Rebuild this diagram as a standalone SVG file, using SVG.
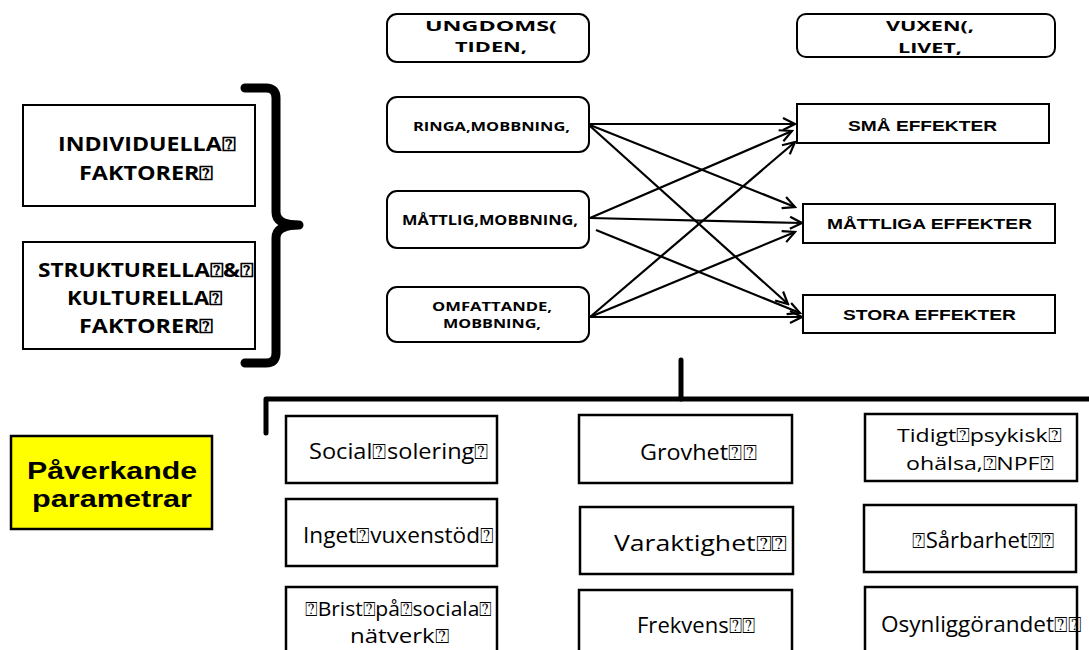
<svg xmlns="http://www.w3.org/2000/svg" width="1089" height="650" viewBox="0 0 1089 650">
<style>
.box{fill:#fff;stroke:#000;stroke-width:2}
.bbox{fill:#fff;stroke:#000;stroke-width:2.5}
.hb{font-family:"Open Sans","DejaVu Sans",sans-serif;font-weight:bold;fill:#000}
.ar{font-family:"Liberation Sans",Arial,sans-serif;font-weight:bold;fill:#000}
.rg{font-family:"Open Sans","DejaVu Sans",sans-serif;fill:#000}
.con{stroke:#000;stroke-width:2.2;fill:none;marker-end:url(#arr)}
.brk{stroke:#000;fill:none;stroke-linecap:round;stroke-linejoin:round}
</style>
<defs>
<marker id="arr" markerUnits="userSpaceOnUse" markerWidth="16" markerHeight="16" viewBox="0 0 16 16" refX="14" refY="8" orient="auto">
<path d="M2,2 L14,8 L2,14" stroke="#000" stroke-width="2.2" fill="none"/>
</marker>
</defs>
<rect width="1089" height="650" fill="#fff"/>

<g id="brackets">
<path class="brk" stroke-width="9" d="M245,88 L266,88 Q276,88 276,98 L276,212 Q276,225 299,225 Q276,225 276,238 L276,353 Q276,363 266,363 L245,363"/>
<path class="brk" stroke-width="5" stroke-linecap="butt" d="M266,433 L266,399 L1089,399"/>
<path class="brk" stroke-width="5" d="M681,360 L681,399"/>
</g>

<g id="individuella">
<rect class="box" x="23" y="105" width="232" height="101"/>
<text class="hb" font-size="19" x="58" y="151" textLength="177" lengthAdjust="spacingAndGlyphs">INDIVIDUELLA⍰</text>
<text class="hb" font-size="19" x="79" y="180" textLength="134" lengthAdjust="spacingAndGlyphs">FAKTORER⍰</text>
</g>
<g id="strukturella">
<rect class="box" x="23" y="242" width="232" height="107"/>
<text class="hb" font-size="19" x="38" y="277" textLength="215" lengthAdjust="spacingAndGlyphs">STRUKTURELLA⍰&amp;⍰</text>
<text class="hb" font-size="19" x="67" y="305" textLength="155" lengthAdjust="spacingAndGlyphs">KULTURELLA⍰</text>
<text class="hb" font-size="19" x="79" y="333" textLength="134" lengthAdjust="spacingAndGlyphs">FAKTORER⍰</text>
</g>

<g id="ungdomstiden">
<rect class="box" x="387" y="14" width="202" height="48" rx="10"/>
<text class="hb" font-size="15" x="425" y="31" textLength="132" lengthAdjust="spacingAndGlyphs">UNGDOMS(</text>
<text class="hb" font-size="15" x="455" y="52" textLength="72" lengthAdjust="spacingAndGlyphs">TIDEN,</text>
</g>
<g id="ringa">
<rect class="box" x="387" y="97" width="202" height="55" rx="10"/>
<text class="hb" font-size="13" x="413" y="131" textLength="157" lengthAdjust="spacingAndGlyphs">RINGA,MOBBNING,</text>
</g>
<g id="mattlig">
<rect class="box" x="387" y="191" width="202" height="57" rx="10"/>
<text class="hb" font-size="13.5" x="402" y="225" textLength="176" lengthAdjust="spacingAndGlyphs">MÅTTLIG,MOBBNING,</text>
</g>
<g id="omfattande">
<rect class="box" x="387" y="287" width="202" height="55" rx="10"/>
<text class="hb" font-size="12" x="432" y="311" textLength="120" lengthAdjust="spacingAndGlyphs">OMFATTANDE,</text>
<text class="hb" font-size="12" x="443" y="328" textLength="98" lengthAdjust="spacingAndGlyphs">MOBBNING,</text>
</g>

<g id="vuxenlivet">
<rect class="box" x="797" y="14" width="258" height="43" rx="9"/>
<text class="hb" font-size="15" x="886" y="31" textLength="88" lengthAdjust="spacingAndGlyphs">VUXEN(,</text>
<text class="hb" font-size="15" x="898" y="53" textLength="64" lengthAdjust="spacingAndGlyphs">LIVET,</text>
</g>
<g id="sma">
<rect class="box" x="797" y="104" width="252" height="39"/>
<text class="ar" font-size="15" x="848" y="131" textLength="149" lengthAdjust="spacingAndGlyphs">SMÅ EFFEKTER</text>
</g>
<g id="mattliga">
<rect class="box" x="803" y="204" width="252" height="39"/>
<text class="ar" font-size="14.5" x="827" y="229" textLength="205" lengthAdjust="spacingAndGlyphs">MÅTTLIGA EFFEKTER</text>
</g>
<g id="stora">
<rect class="box" x="803" y="295" width="252" height="38"/>
<text class="ar" font-size="15" x="843" y="320" textLength="173" lengthAdjust="spacingAndGlyphs">STORA EFFEKTER</text>
</g>

<g id="connectors">
<line class="con" x1="590" y1="124" x2="795" y2="124"/>
<line class="con" x1="590" y1="125" x2="795" y2="207"/>
<line class="con" x1="590" y1="126" x2="788" y2="304"/>
<line class="con" x1="590" y1="218" x2="792" y2="131"/>
<line class="con" x1="590" y1="218" x2="802" y2="223"/>
<line class="con" x1="596" y1="230" x2="800" y2="313"/>
<line class="con" x1="590" y1="317" x2="795" y2="142"/>
<line class="con" x1="590" y1="317" x2="795" y2="232"/>
<line class="con" x1="590" y1="317" x2="802" y2="317"/>
</g>

<g id="paverkande">
<rect x="11" y="436" width="201" height="93" fill="#ffff00" stroke="#000" stroke-width="2.5"/>
<text class="ar" font-size="24" x="27" y="479" textLength="170" lengthAdjust="spacingAndGlyphs">Påverkande</text>
<text class="ar" font-size="24" x="32" y="507" textLength="160" lengthAdjust="spacingAndGlyphs">parametrar</text>
</g>

<g id="social">
<rect class="bbox" x="286" y="416" width="211" height="67"/>
<text class="rg" font-size="21" x="309" y="459" textLength="180" lengthAdjust="spacingAndGlyphs">Social⍰solering⍰</text>
</g>
<g id="inget">
<rect class="bbox" x="286" y="499" width="211" height="67"/>
<text class="rg" font-size="21" x="303" y="543" textLength="191" lengthAdjust="spacingAndGlyphs">Inget⍰vuxenstöd⍰</text>
</g>
<g id="brist">
<rect class="bbox" x="286" y="587" width="211" height="70"/>
<text class="rg" font-size="20" x="305" y="616" textLength="187" lengthAdjust="spacingAndGlyphs">⍰Brist⍰på⍰sociala⍰</text>
<text class="rg" font-size="20" x="350" y="643" textLength="99" lengthAdjust="spacingAndGlyphs">nätverk⍰</text>
</g>

<g id="grovhet">
<rect class="bbox" x="579" y="415" width="213" height="68"/>
<text class="rg" font-size="21" x="640" y="460" textLength="117" lengthAdjust="spacingAndGlyphs">Grovhet⍰⍰</text>
</g>
<g id="varaktighet">
<rect class="bbox" x="580" y="507" width="213" height="67"/>
<text class="rg" font-size="22" x="614" y="551" textLength="173" lengthAdjust="spacingAndGlyphs">Varaktighet⍰⍰</text>
</g>
<g id="frekvens">
<rect class="bbox" x="579" y="590" width="213" height="70"/>
<text class="rg" font-size="21" x="637" y="633" textLength="119" lengthAdjust="spacingAndGlyphs">Frekvens⍰⍰</text>
</g>

<g id="tidigt">
<rect class="bbox" x="865" y="414" width="212" height="67"/>
<text class="rg" font-size="19" x="897" y="442" textLength="164" lengthAdjust="spacingAndGlyphs">Tidigt⍰psykisk⍰</text>
<text class="rg" font-size="19" x="906" y="470" textLength="147" lengthAdjust="spacingAndGlyphs">ohälsa,⍰NPF⍰</text>
</g>
<g id="sarbarhet">
<rect class="bbox" x="864" y="505" width="212" height="67"/>
<text class="rg" font-size="21" x="912" y="548" textLength="143" lengthAdjust="spacingAndGlyphs">⍰Sårbarhet⍰⍰</text>
</g>
<g id="osynlig">
<rect class="bbox" x="865" y="587" width="212" height="73"/>
<text class="rg" font-size="21" x="881" y="632" textLength="201" lengthAdjust="spacingAndGlyphs">Osynliggörandet⍰⍰</text>
</g>
</svg>
